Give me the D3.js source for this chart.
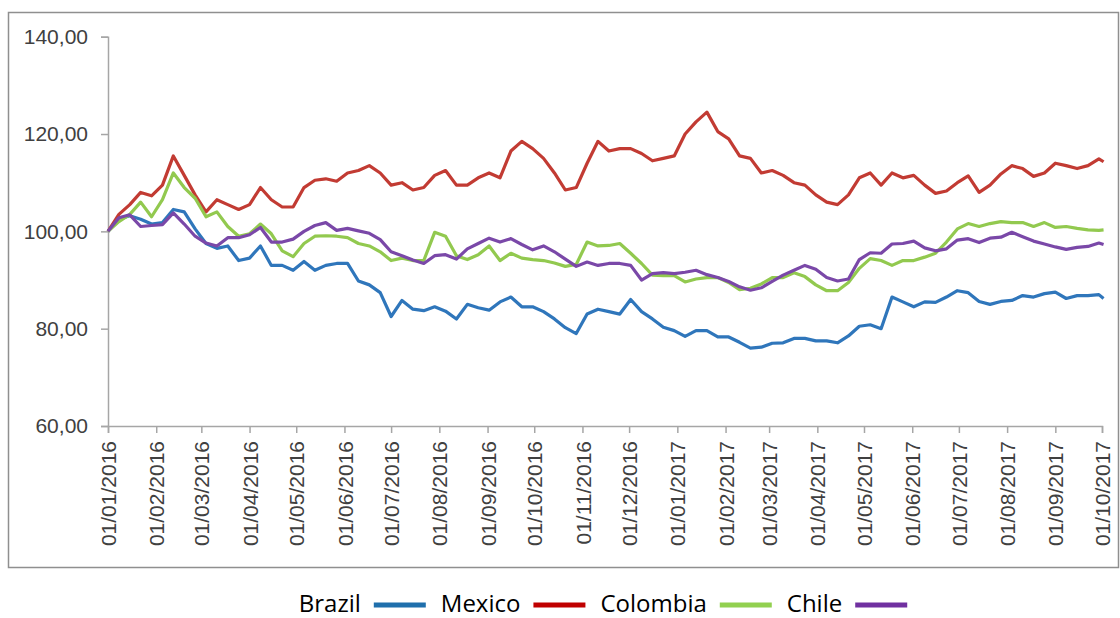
<!DOCTYPE html>
<html>
<head>
  <meta charset="utf-8">
  <script src="https://cdn.jsdelivr.net/npm/d3@7/dist/d3.min.js"></script>
  <style>
    body { margin: 0; background: #fff; }
    svg { display: block; font-family: "Open Sans", sans-serif; }
  </style>
</head>
<body>
  <svg id="chart" width="1120" height="618"></svg>
  <script>
    // weekly readings, index = 100 at 01/01/2016
    var dates = [
      "2016-01-01","2016-01-08","2016-01-15","2016-01-22","2016-01-29",
      "2016-02-05","2016-02-12","2016-02-19","2016-02-26",
      "2016-03-04","2016-03-11","2016-03-18","2016-03-25",
      "2016-04-01","2016-04-08","2016-04-15","2016-04-22","2016-04-29",
      "2016-05-06","2016-05-13","2016-05-20","2016-05-27",
      "2016-06-03","2016-06-10","2016-06-17","2016-06-24",
      "2016-07-01","2016-07-08","2016-07-15","2016-07-22","2016-07-29",
      "2016-08-05","2016-08-12","2016-08-19","2016-08-26",
      "2016-09-02","2016-09-09","2016-09-16","2016-09-23","2016-09-30",
      "2016-10-07","2016-10-14","2016-10-21","2016-10-28",
      "2016-11-04","2016-11-11","2016-11-18","2016-11-25",
      "2016-12-02","2016-12-09","2016-12-16","2016-12-23","2016-12-30",
      "2017-01-06","2017-01-13","2017-01-20","2017-01-27",
      "2017-02-03","2017-02-10","2017-02-17","2017-02-24",
      "2017-03-03","2017-03-10","2017-03-17","2017-03-24","2017-03-31",
      "2017-04-07","2017-04-14","2017-04-21","2017-04-28",
      "2017-05-05","2017-05-12","2017-05-19","2017-05-26",
      "2017-06-02","2017-06-09","2017-06-16","2017-06-23","2017-06-30",
      "2017-07-07","2017-07-14","2017-07-21","2017-07-28",
      "2017-08-04","2017-08-11","2017-08-18","2017-08-25",
      "2017-09-01","2017-09-08","2017-09-15","2017-09-22","2017-09-29",
      "2017-10-02"
    ];

    var brazil = [
      100, 102.5, 103.2, 102.5, 101.5, 101.8, 104.5, 104, 100.5, 97.5, 96.5, 97, 94, 94.5, 97, 93,
      93, 92, 93.8, 92, 93, 93.4, 93.4, 89.8, 89, 87.4, 82.5, 85.8, 84, 83.7, 84.5,
      83.6, 82, 85, 84.3, 83.8, 85.5, 86.5, 84.5, 84.5, 83.5, 82, 80.2, 79, 83, 84,
      83.5, 83, 86, 83.5, 82, 80.3, 79.6, 78.4, 79.6, 79.6, 78.3, 78.3, 77.2, 76, 76.2,
      77, 77.1, 78, 78, 77.5, 77.5, 77.1, 78.5, 80.5, 80.8, 80, 86.5, 85.5, 84.5, 85.5,
      85.4, 86.5, 87.8, 87.4, 85.6, 85, 85.6, 85.8, 86.8, 86.5, 87.2, 87.5, 86.2, 86.8, 86.8, 87,
      86.2
    ];
    var mexico = [
      100, 103.5, 105.5, 108, 107.3, 109.5, 115.5, 111.5, 107.5, 104, 106.5, 105.5, 104.5, 105.5, 109, 106.5,
      105, 105, 109, 110.5, 110.8, 110.3, 112, 112.5, 113.5, 112, 109.5, 110, 108.5, 109, 111.5,
      112.5, 109.5, 109.5, 111, 112, 111, 116.5, 118.5, 117, 115, 112, 108.5, 109, 114, 118.5,
      116.5, 117, 117, 116, 114.5, 115, 115.5, 120, 122.5, 124.5, 120.5, 119, 115.5, 115, 112,
      112.5, 111.5, 110, 109.5, 107.5, 106, 105.5, 107.5, 111, 112, 109.5, 112, 111, 111.5, 109.5,
      107.8, 108.3, 110, 111.4, 108, 109.5, 111.8, 113.5, 112.9, 111.3, 112, 114, 113.5, 112.9, 113.5, 114.9,
      114.3
    ];
    var colombia = [
      100, 102, 103.5, 106, 103, 106.5, 112, 109, 106.8, 103, 104, 101, 99, 99.5, 101.5, 99.5,
      96, 94.8, 97.5, 99, 99.1, 99, 98.7, 97.5, 97, 95.8, 94, 94.5, 94, 94, 99.8,
      99, 95, 94.2, 95.2, 97, 94, 95.5, 94.5, 94.2, 94, 93.5, 92.8, 93.2, 97.8, 97,
      97.1, 97.5, 95.5, 93.4, 91, 90.9, 90.9, 89.6, 90.2, 90.5, 90.5, 89.5, 88, 88.3, 89.2,
      90.5, 90.5, 91.5, 90.7, 89, 87.8, 87.8, 89.5, 92.4, 94.4, 94, 93, 94, 94, 94.7,
      95.5, 97.8, 100.5, 101.6, 101, 101.6, 102, 101.8, 101.8, 101, 101.8, 100.8, 101, 100.6, 100.3, 100.2,
      100.3
    ];
    var chile = [
      100, 102.8, 103.4, 101, 101.2, 101.4, 103.8, 101.5, 99, 97.6, 97, 98.7, 98.7, 99.3, 100.8, 97.8,
      97.8, 98.4, 100, 101.2, 101.8, 100.2, 100.6, 100.1, 99.6, 98.3, 95.8, 95, 94.1, 93.4, 95,
      95.2, 94.3, 96.4, 97.5, 98.6, 97.8, 98.5, 97.3, 96.2, 97, 95.8, 94.3, 92.8, 93.7, 93,
      93.4, 93.4, 93, 90, 91.3, 91.5, 91.3, 91.6, 92, 91.1, 90.5, 89.7, 88.6, 87.9, 88.4,
      89.7, 91, 92, 93, 92.2, 90.5, 89.8, 90.2, 94.2, 95.6, 95.5, 97.4, 97.5, 98, 96.6,
      96, 96.4, 98.2, 98.5, 97.7, 98.6, 98.8, 99.8, 98.9, 98, 97.4, 96.8, 96.3, 96.7, 96.9, 97.6,
      97.3
    ];

    var seriesNames = ["Brazil", "Mexico", "Colombia", "Chile"];
    var seriesValues = [brazil, mexico, colombia, chile];
    var lineColors = ["#2f76bb", "#c23b33", "#92c94f", "#7a48a8"];
    var legendColors = ["#1f6fac", "#c00000", "#92d050", "#7030a0"];
    var yTicks = [60, 80, 100, 120, 140];

    var parseDate = d3.timeParse("%Y-%m-%d");
    var xDates = dates.map(parseDate);

    var svg = d3.select("#chart");

    // outer chart frame
    svg.append("rect")
      .attr("x", 8.5).attr("y", 12.5)
      .attr("width", 1110).attr("height", 555)
      .attr("fill", "none")
      .attr("stroke", "#8f8f8f")
      .attr("stroke-width", 1.5);

    var x = d3.scaleTime()
      .domain([new Date(2016, 0, 1), new Date(2017, 9, 1)])
      .range([108, 1102]);

    var y = d3.scaleLinear()
      .domain([60, 140])
      .range([426, 36.7]);

    // y axis
    var yAxis = svg.append("g")
      .attr("transform", "translate(108,0)")
      .call(d3.axisLeft(y)
        .tickValues(yTicks)
        .tickSize(7)
        .tickPadding(13)
        .tickFormat(function(d) { return d3.format(".2f")(d).replace(".", ","); }));

    yAxis.selectAll("text")
      .attr("fill", "#404040")
      .style("font-size", "21px");

    // x axis, one tick per month
    var xAxis = svg.append("g")
      .attr("transform", "translate(0,426)")
      .call(d3.axisBottom(x)
        .ticks(d3.timeMonth.every(1))
        .tickSize(7)
        .tickFormat(d3.timeFormat("%d/%m/%Y")));

    xAxis.selectAll("text")
      .attr("fill", "#404040")
      .style("font-size", "21px")
      .attr("text-anchor", "end")
      .attr("transform", "rotate(-90)")
      .attr("x", -15)
      .attr("y", 0)
      .attr("dy", "0.36em");

    svg.selectAll(".domain, .tick line")
      .attr("stroke", "#a6a6a6")
      .attr("stroke-width", 1.5);

    // series lines
    var line = d3.line()
      .x(function(d, i) { return x(xDates[i]); })
      .y(function(d) { return y(d); });

    svg.append("g")
      .selectAll("path")
      .data(seriesValues)
      .enter()
      .append("path")
      .attr("d", line)
      .attr("fill", "none")
      .attr("stroke", function(d, i) { return lineColors[i]; })
      .attr("stroke-width", 3.2)
      .attr("stroke-linejoin", "round");

    // legend: label followed by its colour key
    var legend = svg.append("g");
    var cursor = 0;
    seriesNames.forEach(function(name, i) {
      var t = legend.append("text")
        .attr("x", cursor)
        .attr("y", 612)
        .attr("fill", "#000")
        .style("font-size", "24px")
        .text(name);
      cursor += t.node().getComputedTextLength() + 13;
      legend.append("line")
        .attr("x1", cursor).attr("x2", cursor + 52)
        .attr("y1", 605).attr("y2", 605)
        .attr("stroke", legendColors[i])
        .attr("stroke-width", 5);
      cursor += 52 + 15;
    });
    cursor -= 15;
    legend.attr("transform", "translate(" + (603 - cursor / 2) + ",0)");
  </script>
</body>
</html>
